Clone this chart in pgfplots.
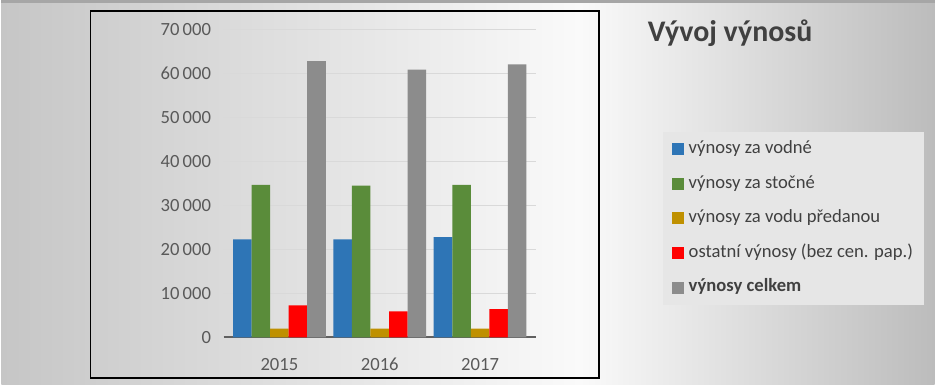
\documentclass[border=0pt]{standalone}
\usepackage{fontspec}
\setmainfont{Carlito}
\usepackage{pgfplots}
\pgfplotsset{compat=1.18}
\definecolor{cblue}{HTML}{2E75B6}
\definecolor{cgreen}{HTML}{5A8C3A}
\definecolor{cgold}{HTML}{BF9000}
\definecolor{cred}{HTML}{FF0000}
\definecolor{cgray}{HTML}{8C8C8C}
\definecolor{bgl}{HTML}{C6C6C6}
\definecolor{bgm}{HTML}{FAFAFA}
\definecolor{bgr}{HTML}{BCBCBC}
\definecolor{tickc}{HTML}{595959}
\definecolor{textc}{HTML}{404040}
\definecolor{legbg}{HTML}{E6E6E6}
\definecolor{gridc}{HTML}{D9D9D9}
\pgfdeclarehorizontalshading{bgshade}{100bp}{color(0bp)=(bgl); color(25bp)=(bgl); color(56bp)=(bgm); color(75bp)=(bgr); color(100bp)=(bgr)}
\begin{document}
\begin{tikzpicture}
% background (1px = 0.75pt)
\shade[shading=bgshade] (0pt,0pt) rectangle (702pt,288.75pt);
\draw[color=gray!70, line width=2pt] (0pt,288pt) -- (702pt,288pt);
% plot frame
\draw[black, line width=1.4pt] (67.1pt,4.5pt) rectangle (449.25pt,280.7pt);
% title
\node[anchor=base west, inner sep=0pt, font=\fontsize{22.5pt}{26pt}\selectfont\bfseries, text=textc] at (486pt,257.5pt) {Vývoj výnosů};
\begin{axis}[
  at={(167.25pt,35.25pt)}, anchor=south west,
  scale only axis,
  width=234.75pt, height=231.5pt,
  ybar=0pt, bar width=13.95pt,
  xmin=-0.555, xmax=2.555,
  ymin=0, ymax=70000,
  xtick={0,1,2}, xticklabels={2015,2016,2017},
  ytick={0,10000,...,70000},
  axis lines*=left,
  y axis line style={draw=none},
  x axis line style={draw=gray!75!black, line width=1.4pt},
  tick style={draw=none},
  ymajorgrids, grid style={gridc, line width=1pt},
  yticklabel style={text=tickc, font=\fontsize{14pt}{16pt}\selectfont, xshift=-6pt},
  xticklabel style={text=tickc, font=\fontsize{14pt}{16pt}\selectfont, yshift=-8pt},
  /pgf/number format/.cd, 1000 sep={\,}, assume math mode=true, /pgfplots/.cd,
  scaled y ticks=false,
  legend image code/.code={\fill[#1] (0pt,-4.5pt) rectangle (9pt,4.5pt);},
  legend cell align=left,
  legend style={at={(rel axis cs:1.406,0.667)}, anchor=north west,
    draw=none, fill=legbg, inner xsep=7pt, inner ysep=6pt,
    row sep=12.5pt, column sep=2pt,
    font=\fontsize{14pt}{16pt}\selectfont, text=textc,
    nodes={inner ysep=0pt, inner xsep=1.5pt, text height=10pt, text depth=3.5pt}},
]
\addplot[fill=cblue, draw=none] coordinates {(0,22300) (1,22300) (2,22800)};
\addlegendentry{výnosy za vodné}
\addplot[fill=cgreen, draw=none] coordinates {(0,34700) (1,34500) (2,34700)};
\addlegendentry{výnosy za stočné}
\addplot[fill=cgold, draw=none] coordinates {(0,2000) (1,2000) (2,2000)};
\addlegendentry{výnosy za vodu předanou}
\addplot[fill=cred, draw=none] coordinates {(0,7300) (1,5900) (2,6400)};
\addlegendentry{ostatní výnosy (bez cen. pap.)}
\addplot[fill=cgray, draw=none] coordinates {(0,62800) (1,60900) (2,62100)};
\addlegendentry{\textbf{výnosy celkem}}
\end{axis}
\end{tikzpicture}
\end{document}
